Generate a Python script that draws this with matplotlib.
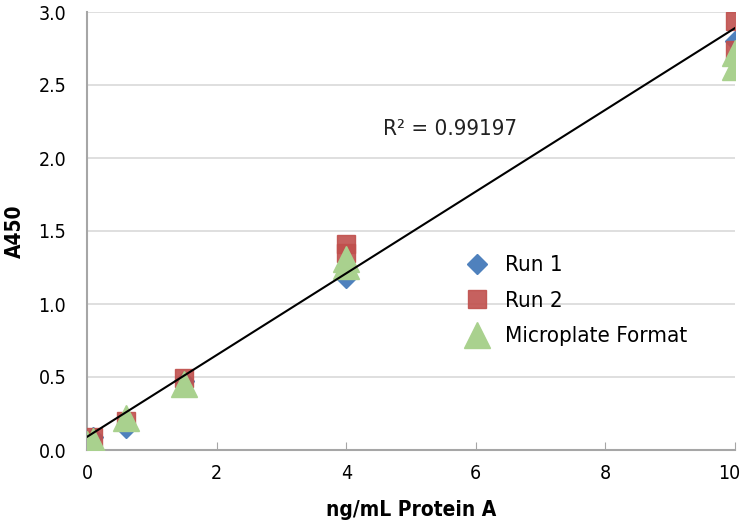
import matplotlib.pyplot as plt
import matplotlib.transforms as mtransforms
import numpy as np

plt.rcParams['font.family'] = ['DejaVu Sans']
plt.rcParams['font.stretch'] = 'condensed'

# data
run1_x = [0, 0.1, 0.6, 1.5, 4, 10]
run1_y = [0.05, 0.09, 0.15, 0.47, 1.18, 2.80]
run2_x = [0, 0.1, 0.6, 1.5, 4, 4, 10, 10]
run2_y = [0.06, 0.09, 0.20, 0.49, 1.41, 1.35, 2.94, 2.74]
micro_x = [0, 0.1, 0.6, 1.5, 4, 4, 10, 10]
micro_y = [0.04, 0.06, 0.22, 0.45, 1.31, 1.26, 2.72, 2.62]

# trendline as drawn on the chart
trend_slope = 0.28
trend_intercept = 0.09
r2_text = "R² = 0.99197"

x_ticks = [0, 2, 4, 6, 8, 10]
y_ticks = [0.0, 0.5, 1.0, 1.5, 2.0, 2.5, 3.0]

fig = plt.figure(figsize=(7.42, 5.22), dpi=100)
ax = fig.add_axes([87 / 742, 72 / 522, 648 / 742, 438 / 522])

all_x = np.array(run1_x + run2_x + micro_x)
xs = np.array([all_x.min(), all_x.max()])

ax.plot(run2_x, run2_y, 's', color='#c0504d', markersize=13, alpha=0.9,
        label='Run 2', zorder=3)
ax.plot(run1_x, run1_y, 'D', color='#4f81bd', markersize=10.5,
        label='Run 1', zorder=2)
ax.plot(micro_x, micro_y, '^', color='#a9d18e', markersize=19,
        label='Microplate Format', zorder=4)
ax.plot(xs, trend_slope * xs + trend_intercept, color='black', lw=1.5,
        zorder=5)

ax.text(4.57, 2.2, r2_text, fontsize=16, color='#222222', va='center')

ax.set_xlim(0, 10)
ax.set_ylim(0, 3)
ax.set_xticks(x_ticks)
ax.set_xticklabels([str(t) for t in x_ticks])
ax.set_yticks(y_ticks)
ax.set_yticklabels(['%.1f' % t for t in y_ticks])
ax.grid(axis='y', color='#d9d9d9', lw=1.2)
ax.set_axisbelow(True)
for s in ['top', 'right']:
    ax.spines[s].set_visible(False)
for s in ['left', 'bottom']:
    ax.spines[s].set_color('#a6a6a6')
    ax.spines[s].set_linewidth(1.5)
ax.tick_params(axis='x', direction='in', length=6, color='#a6a6a6',
               labelsize=14, pad=10)
ax.tick_params(axis='y', length=0, labelsize=14, pad=15)
ax.set_xlabel('ng/mL Protein A', fontsize=15, fontweight='bold', labelpad=12)
ax.set_ylabel('A450', fontsize=15, fontweight='bold', labelpad=10)

# nudge the last x label so it stays inside the figure
last = ax.get_xticklabels()[-1]
last.set_transform(last.get_transform() +
                   mtransforms.ScaledTranslation(-4 / 72, 0, fig.dpi_scale_trans))

handles, labels = ax.get_legend_handles_labels()
order = [1, 0, 2]
ax.legend([handles[i] for i in order], [labels[i] for i in order],
          loc='upper left', bbox_to_anchor=(0.545, 0.49), frameon=False,
          fontsize=16, labelspacing=0.7, handletextpad=0.5, handlelength=1.5)

fig.savefig('out.png', dpi=100)
